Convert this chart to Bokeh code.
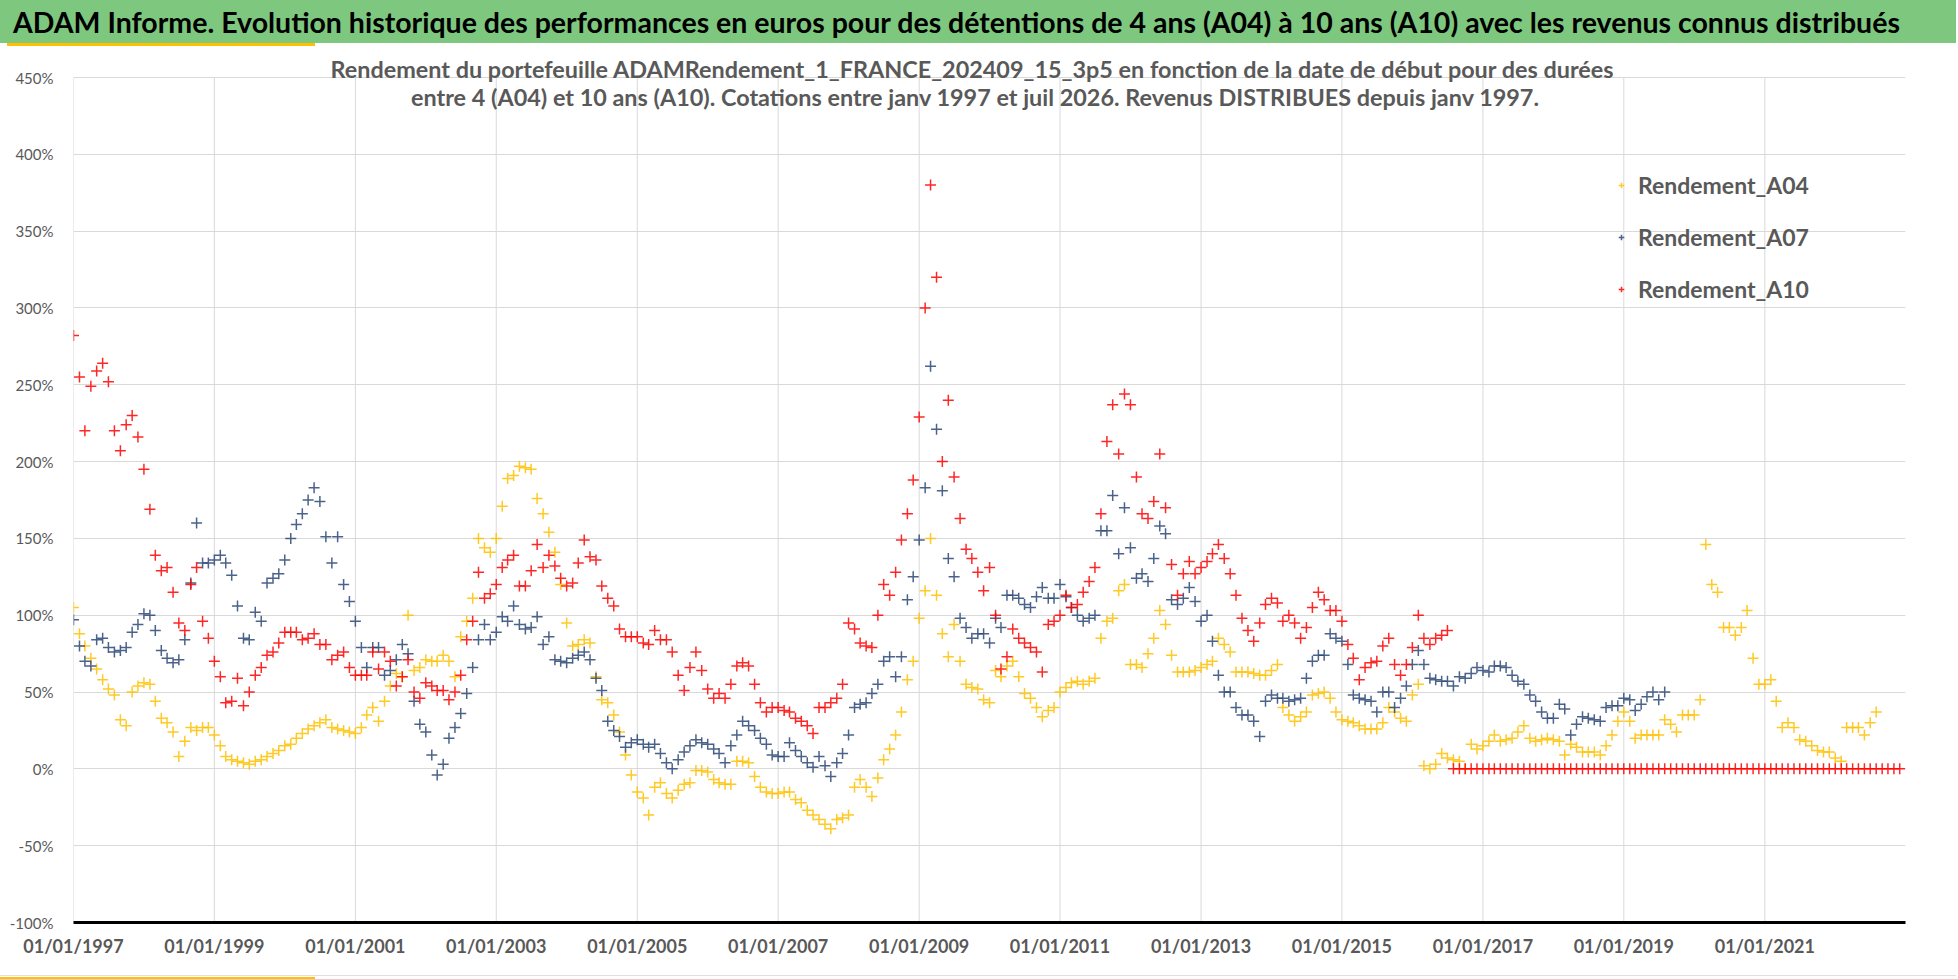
import pandas as pd
from bokeh.plotting import figure
from bokeh.models import (Range1d, FixedTicker, DatetimeTickFormatter, PrintfTickFormatter,
                          Label, Legend, LegendItem, Div)
from bokeh.layouts import column
from bokeh.embed import file_html
from bokeh.resources import INLINE

TITLE = ("ADAM Informe. Evolution historique des performances en euros pour des détentions "
         "de 4 ans (A04) à 10 ans (A10) avec les revenus connus distribués")
SUB1 = ("Rendement du portefeuille ADAMRendement_1_FRANCE_202409_15_3p5  en fonction de la "
        "date de début pour des durées")
SUB2 = ("entre 4 (A04) et 10 ans (A10). Cotations entre janv 1997 et juil 2026. "
        "Revenus DISTRIBUES depuis janv 1997.")

SERIES_NAMES = ["Rendement_A04", "Rendement_A07", "Rendement_A10"]
TICK_YEARS = [1997, 1999, 2001, 2003, 2005, 2007, 2009, 2011, 2013, 2015, 2017, 2019, 2021]
Y_TICKS = [-100, -50, 0, 50, 100, 150, 200, 250, 300, 350, 400, 450]

# monthly readings (%), first value = January 1997
A04_START = "1997-01-01"
A04 = [
    105, 88, 80, 72, 65, 58, 52, 48, 32, 28, 50, 54,
    56, 55, 44, 33, 30, 24, 8, 18, 27, 25, 27, 27,
    22, 15, 8, 6, 5, 4, 3, 5, 6, 8, 10, 12,
    15, 16, 20, 23, 26, 28, 30, 32, 27, 26, 25, 24,
    23, 27, 35, 40, 31, 44, 54, 62, 60, 100, 64, 66,
    71, 70, 70, 74, 70, 60, 86, 96, 111, 150, 144, 141,
    150, 171, 189, 191, 197, 196, 195, 176, 166, 154, 141, 120,
    95, 80, 81, 84, 82, 60, 45, 43, 35, 24, 9, -4,
    -15, -19, -30, -12, -9, -16, -19, -14, -10, -9, -1, -1,
    -2, -7, -9, -10, -10, 5, 5, 4, -5, -12, -15, -16,
    -16, -15, -15, -20, -22, -27, -30, -33, -36, -39, -33, -32,
    -30, -12, -7, -12, -18, -6, 6, 13, 22, 37, 58, 70,
    98, 116, 150, 113, 88, 73, 94, 70, 55, 53, 52, 45,
    43, 64, 60, 67, 70, 60, 49, 46, 40, 34, 38, 40,
    50, 53, 56, 57, 55, 57, 59, 85, 96, 98, 116, 120,
    68, 68, 66, 75, 85, 103, 94, 74, 63, 63, 63, 64,
    66, 68, 70, 85, 81, 76, 63, 63, 63, 62, 61, 61,
    64, 68, 40, 35, 31, 34, 37, 48, 49, 50, 46, 37,
    32, 31, 30, 28, 26, 26, 26, 30, 40, 37, 33, 31,
    48, 55, 2, 0, 3, 10, 7, 6, 5, 0, 16, 13,
    15, 18, 22, 18, 19, 20, 24, 28, 20, 18, 19, 20,
    19, 18, 9, 16, 14, 11, 11, 11, 9, 15, 22, 31,
    37, 31, 20, 22, 22, 22, 22, 32, 29, 24, 35, 35,
    35, 45, 146, 120, 115, 92, 92, 87, 92, 103, 72, 55,
    55, 58, 44, 27, 30, 27, 19, 18, 15, 12, 11, 11,
    7, 5, 27, 27, 27, 22, 30, 37,
]

A07_START = "1997-01-01"
A07 = [
    97, 80, 70, 67, 84, 85, 79, 76, 77, 79, 89, 94,
    101, 100, 90, 77, 72, 69, 71, 84, 121, 160, 134, 134,
    136, 139, 134, 126, 106, 85, 84, 102, 96, 121, 124, 127,
    136, 150, 159, 166, 175, 183, 174, 151, 134, 151, 120, 109,
    96, 79, 66, 79, 79, 61, 64, 71, 81, 75, 44, 29,
    24, 9, -4, 3, 20, 27, 36, 49, 66, 84, 94, 84,
    89, 99, 96, 106, 94, 91, 92, 99, 81, 86, 71, 70,
    69, 72, 74, 76, 71, 59, 51, 31, 25, 21, 14, 17,
    19, 16, 14, 16, 10, 4, 0, 6, 11, 15, 19, 17,
    16, 13, 10, 4, 15, 22, 31, 28, 25, 20, 16, 9,
    8, 8, 17, 12, 8, 4, 1, 8, 2, -5, 4, 10,
    22, 40, 42, 43, 49, 55, 70, 73, 60, 73, 110, 125,
    149, 183, 262, 221, 181, 137, 125, 98, 92, 85, 88, 88,
    82, 98, 92, 113, 113, 111, 107, 105, 112, 118, 111, 111,
    120, 112, 105, 100, 96, 98, 100, 155, 155, 178, 140, 170,
    144, 124, 127, 122, 137, 158, 153, 110, 107, 111, 118, 109,
    96, 100, 83, 61, 50, 50, 40, 35, 35, 31, 21, 44,
    48, 46, 46, 44, 45, 46, 59, 70, 74, 74, 88, 85,
    83, 68, 48, 46, 45, 44, 37, 50, 50, 40, 46, 54,
    68, 77, 68, 59, 58, 57, 57, 54, 60, 59, 62, 66,
    64, 63, 67, 67, 66, 61, 57, 55, 48, 44, 37, 33,
    33, 42, 39, 22, 29, 34, 33, 32, 31, 40, 41, 41,
    46, 45, 38, 42, 47, 50, 45, 50,
]

A10_START = "1997-01-01"
A10 = [
    282, 255, 220, 249, 259, 264, 252, 220, 207, 224, 230, 216,
    195, 169, 139, 129, 131, 115, 95, 90, 120, 131, 96, 85,
    70, 60, 43, 44, 59, 41, 50, 61, 66, 74, 76, 82,
    89, 89, 89, 84, 85, 88, 81, 81, 71, 74, 76, 66,
    61, 61, 61, 76, 65, 76, 70, 54, 60, 71, 50, 46,
    56, 54, 51, 51, 45, 50, 61, 84, 96, 128, 111, 114,
    120, 131, 136, 139, 119, 119, 129, 146, 131, 139, 132, 124,
    119, 121, 134, 149, 138, 136, 119, 111, 106, 91, 86, 86,
    86, 82, 81, 90, 84, 84, 76, 61, 51, 66, 76, 64,
    52, 46, 49, 46, 55, 67, 69, 67, 55, 43, 37, 40,
    40, 38, 37, 33, 31, 28, 23, 40, 40, 43, 46, 55,
    95, 91, 82, 80, 79, 100, 120, 113, 128, 149, 166, 188,
    229, 300, 380, 320, 200, 240, 190, 163, 143, 137, 128, 116,
    131, 100, 65, 73, 91, 85, 82, 79, 76, 63, 94, 96,
    100, 113, 105, 107, 115, 122, 131, 166, 213, 237, 205, 244,
    237, 190, 166, 163, 174, 205, 170, 133, 113, 127, 135, 127,
    131, 135, 140, 146, 137, 127, 113, 98, 90, 83, 95, 107,
    111, 108, 96, 100, 95, 85, 92, 105, 115, 110, 103, 103,
    96, 81, 72, 58, 66, 69, 70, 80, 85, 68, 61, 68,
    79, 100, 85, 81, 85, 87, 90,
    # from August 2016 the 10-year value is shown as 0
    0, 0, 0, 0, 0,
    0, 0, 0, 0, 0, 0, 0, 0, 0, 0, 0, 0,
    0, 0, 0, 0, 0, 0, 0, 0, 0, 0, 0, 0,
    0, 0, 0, 0, 0, 0, 0, 0, 0, 0, 0, 0,
    0, 0, 0, 0, 0, 0, 0, 0, 0, 0, 0, 0,
    0, 0, 0, 0, 0, 0, 0, 0, 0, 0, 0, 0,
    0, 0, 0, 0, 0, 0, 0, 0, 0, 0, 0, 0,
]

COLORS = ["#FFC000", "#2B4676", "#FF0000"]
FONT = "Lato"
GRAY = "#595959"
GRID = "#D9D9D9"


def ms(ts):
    return pd.Timestamp(ts).value / 1e6


W = 1956
BANNER_H = 46
FIG_H = 924
BOTTOM_H = 9
# frame spans page y 46..922; -100 % sits at 922 and 450 % at 77
Y_TOP = -100 + (922 - BANNER_H) * 550.0 / 845.0

p = figure(width=W, height=FIG_H, x_axis_type="datetime",
           x_range=Range1d(ms("1997-01-01"), ms("2022-12-31")),
           y_range=Range1d(-100, Y_TOP),
           output_backend="svg", toolbar_location=None,
           min_border_left=73, min_border_right=51, min_border_top=0,
           min_border_bottom=FIG_H - (922 - BANNER_H))
p.outline_line_color = None
p.background_fill_color = "white"
p.border_fill_color = "white"

# vertical grid lines, limited to the -100 % .. 450 % band
tick_ms = [ms(f"{y}-01-01") for y in TICK_YEARS]
p.segment(x0=tick_ms, x1=tick_ms, y0=[Y_TICKS[0]] * len(tick_ms), y1=[Y_TICKS[-1]] * len(tick_ms),
          line_color=GRID, line_width=1, level="underlay")

renderers = []
for vals, start, col in [(A04, A04_START, COLORS[0]), (A07, A07_START, COLORS[1]),
                         (A10, A10_START, COLORS[2])]:
    dates = pd.date_range(start, periods=len(vals), freq="MS")
    r = p.scatter(x=dates, y=vals, marker="cross", size=11, line_width=1.5,
                  line_color=col, line_alpha=0.85)
    renderers.append(r)

p.xaxis.ticker = FixedTicker(ticks=tick_ms)
p.xgrid.grid_line_color = None
fmt = "%d/%m/%Y"
p.xaxis.formatter = DatetimeTickFormatter(
    milliseconds=fmt, seconds=fmt, minsec=fmt, minutes=fmt, hourmin=fmt, hours=fmt,
    days=fmt, months=fmt, years=fmt)
p.xaxis.minor_tick_line_color = None
p.xaxis.major_tick_line_color = None
p.xaxis.axis_line_color = "black"
p.xaxis.axis_line_width = 3
p.xaxis.major_label_text_font = FONT
p.xaxis.major_label_text_font_style = "bold"
p.xaxis.major_label_text_font_size = "18px"
p.xaxis.major_label_text_color = GRAY
p.xaxis.major_label_standoff = 6

p.yaxis.ticker = FixedTicker(ticks=Y_TICKS)
p.ygrid.ticker = FixedTicker(ticks=Y_TICKS)
p.yaxis.formatter = PrintfTickFormatter(format="%d%%")
p.yaxis.axis_line_color = None
p.yaxis.major_tick_line_color = None
p.yaxis.minor_tick_line_color = None
p.yaxis.major_label_text_font = FONT
p.yaxis.major_label_text_font_size = "15px"
p.yaxis.major_label_text_color = GRAY
p.yaxis.major_label_standoff = 14
p.ygrid.grid_line_color = GRID
p.ygrid.grid_line_width = 1

# two-line chart subtitle, overlapping the top of the plot area as in the original
px_per_unit = 845.0 / 550.0
for txt, page_y in [(SUB1, 68), (SUB2, 96)]:
    yv = 450 + (77 - page_y) / px_per_unit
    p.add_layout(Label(x=ms("2009-10-20"), y=yv, text=txt, text_align="center",
                       text_baseline="middle", text_font=FONT, text_font_size="23.4px",
                       text_font_style="bold", text_color=GRAY))

legend = Legend(items=[LegendItem(label=n, renderers=[r]) for n, r in zip(SERIES_NAMES, renderers)],
                location=(1541, 618), orientation="vertical",
                label_text_font=FONT, label_text_font_size="23px", label_text_font_style="bold",
                label_text_color=GRAY, label_height=30, glyph_height=30, glyph_width=14,
                spacing=22, padding=0, margin=0, label_standoff=10,
                border_line_color=None, background_fill_alpha=0)
p.add_layout(legend)

banner = Div(text=(f'<div style="width:{W}px;height:43px;background:#7EC77F;font-family:Lato;'
                   'font-weight:bold;font-size:28.5px;color:#000;line-height:44px;padding-left:13px;'
                   f'box-sizing:border-box;white-space:nowrap;overflow:hidden;">{TITLE}</div>'
                   '<div style="position:relative;height:3px;width:100%;">'
                   '<div style="position:absolute;left:7px;top:0;width:308px;height:3px;background:#FFC000;"></div>'
                   '</div>'),
             width=W, height=BANNER_H, margin=0)
bottom = Div(text=('<div style="position:relative;height:9px;width:100%;">'
                   f'<div style="position:absolute;left:0;top:2px;width:{W}px;height:1px;background:#E0E0E0;"></div>'
                   '<div style="position:absolute;left:0;top:4px;width:315px;height:4px;background:#FFC000;"></div>'
                   '</div>'),
             width=W, height=BOTTOM_H, margin=0)

layout = column(banner, p, bottom, spacing=0)
open("out.html", "w").write(file_html(layout, INLINE))
